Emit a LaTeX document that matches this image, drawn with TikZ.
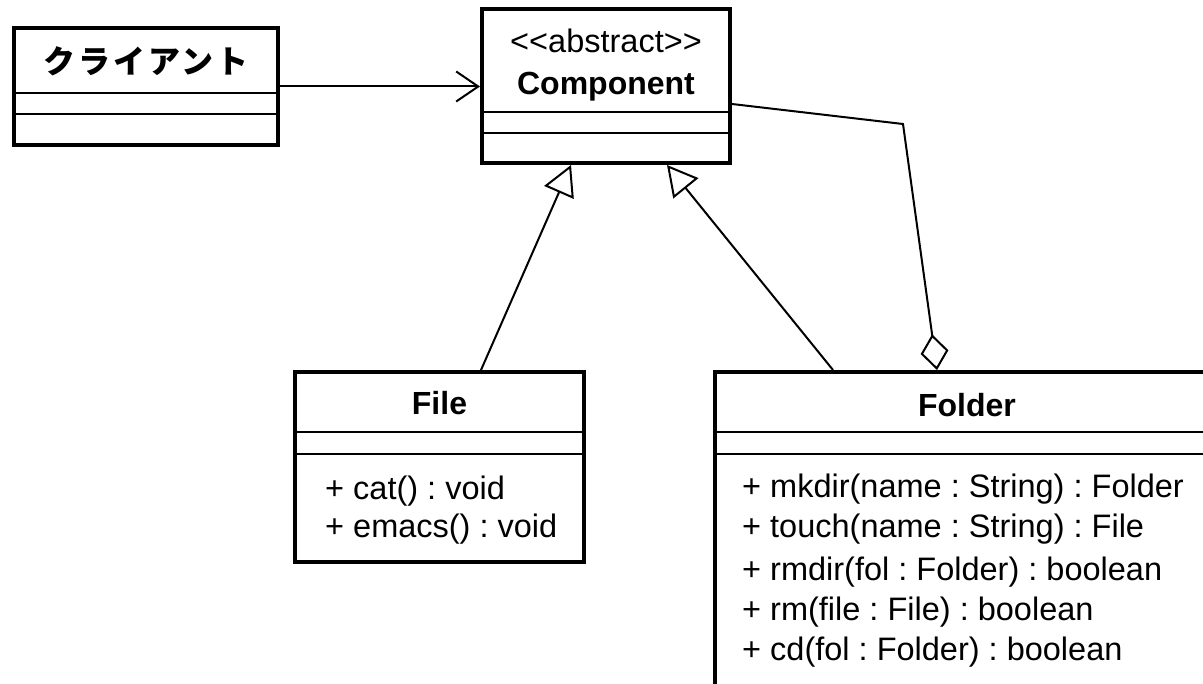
\documentclass[tikz,border=0pt]{standalone}
\usepackage{fontspec}
\setmainfont{Liberation Sans}
\newfontfamily\jpfont[LetterSpace=9]{Noto Sans CJK JP}
\usetikzlibrary{arrows.meta,calc,positioning}

\tikzset{
  box/.style={draw, line width=4pt, rectangle, inner sep=0pt},
  sep/.style={line width=2pt},
  txt/.style={inner sep=0pt, font=\fontsize{32.5}{36}\selectfont},
  ttl/.style={txt, font=\fontsize{32}{36}\selectfont\bfseries},
  assoc/.style={line width=2pt, -{Straight Barb[length=22pt,width=30pt]}},
  inherit/.style={line width=2pt, -{Triangle[open,fill=white,length=30pt,width=32pt]}},
  aggr/.style={line width=2pt, {Diamond[open,fill=white,length=36pt,width=28pt]}-}
}

\begin{document}
\frenchspacing
\begin{tikzpicture}[x=1pt,y=-1pt]
	\fill[white] (0,0) rectangle (1203,684);
	\useasboundingbox (0,0) rectangle (1203,684);
	\clip (0,0) rectangle (1203,684);

	% classes
	\node[box, minimum width=264pt, minimum height=117pt] (client) at (146,86.5) {};
	\node[box, minimum width=248pt, minimum height=154pt] (comp) at (606,86) {};
	\node[box, minimum width=289pt, minimum height=190pt] (file) at (439.5,467) {};
	\node[box, minimum width=504pt, minimum height=328pt] (folder) at (967,536) {};

	\draw[sep] (client.west |- 0,93)--(client.east |- 0,93);
	\draw[sep] (client.west |- 0,114)--(client.east |- 0,114);
	\draw[sep] (comp.west |- 0,112)--(comp.east |- 0,112);
	\draw[sep] (comp.west |- 0,133)--(comp.east |- 0,133);
	\draw[sep] (file.west |- 0,432)--(file.east |- 0,432);
	\draw[sep] (file.west |- 0,454)--(file.east |- 0,454);
	\draw[sep] (folder.west |- 0,432)--(folder.east |- 0,432);
	\draw[sep] (folder.west |- 0,454)--(folder.east |- 0,454);

	% names
	\node[txt, anchor=base, font=\fontsize{32}{36}\selectfont\jpfont\bfseries] (clientname) at (146,74) {クライアント};
	\node[txt, anchor=base] (stereo) at (606,53) {<{}<abstract>{}>};
	\node[ttl, anchor=base] (compname) at (606,95) {Component};
	\node[ttl, anchor=base] (filename) at (439.5,415) {File};
	\node[ttl, anchor=base] (foldername) at (967,417) {Folder};

	% operations
	\node[txt, anchor=base west] (f1) at (325,500) {+ cat() : void};
	\node[txt, anchor=base west] (f2) at (325,537) {+ emacs() : void};
	\node[txt, anchor=base west] (d1) at (742,498) {+ mkdir(name : String) : Folder};
	\node[txt, anchor=base west] (d2) at (742,538) {+ touch(name : String) : File};
	\node[txt, anchor=base west] (d3) at (742,580) {+ rmdir(fol : Folder) : boolean};
	\node[txt, anchor=base west] (d4) at (742,620) {+ rm(file : File) : boolean};
	\node[txt, anchor=base west] (d5) at (742,660) {+ cd(fol : Folder) : boolean};

	% relations
	\coordinate (bend) at (903,124);
	\draw[assoc] (client.east)--(client.east -| comp.west);
	\draw[inherit] ($(file.north west)+(188,0)$)--($(comp.south west)+(91,0)$);
	\draw[inherit] ($(folder.north west)+(120,0)$)--($(comp.south west)+(187,0)$);
	\draw[aggr] ($(folder.north west)+(224,0)$)--(bend)--($(comp.east)+(0,18)$);
\end{tikzpicture}
\end{document}
